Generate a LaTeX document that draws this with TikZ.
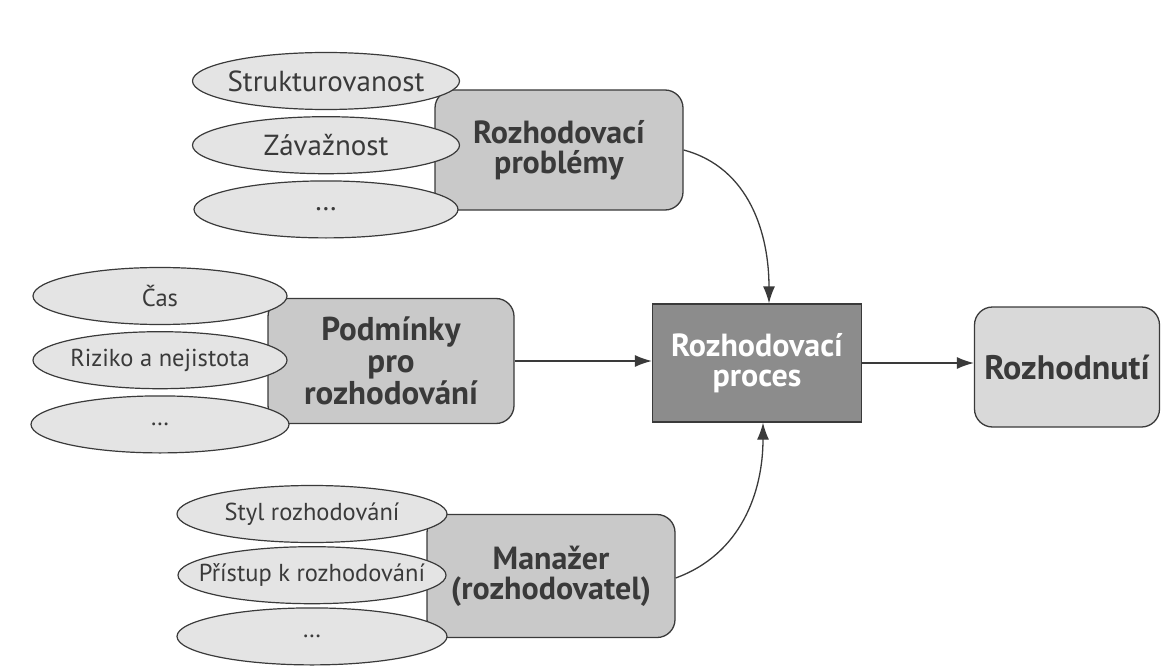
\documentclass[tikz,border=0pt]{standalone}
\usepackage{fontspec}
\setmainfont{PT Sans}
\usepackage{tikz}
\usetikzlibrary{shapes, positioning, calc, arrows.meta}
\definecolor{ovalgray}{HTML}{E4E4E4}
\definecolor{boxgray}{HTML}{C9C9C9}
\definecolor{procgray}{HTML}{8C8C8C}
\definecolor{resgray}{HTML}{D9D9D9}
\definecolor{inkgray}{HTML}{3A3A3A}

\begin{document}
\begin{tikzpicture}[x=1pt, y=-1pt,
    factor/.style={ellipse, 
      draw=inkgray, 
      line width=1.2pt, 
      fill=ovalgray, 
      minimum width=#1, 
      minimum height=57pt, 
      inner xsep=-40pt, 
      inner ysep=0pt, 
      text=inkgray, 
      font=\fontsize{24.5}{28}\selectfont},
    bigfactor/.style={font=\fontsize{29}{30}\selectfont},
    group/.style={rectangle, 
      rounded corners=18pt, 
      draw=inkgray, 
      line width=1.3pt, 
      fill=boxgray, 
      minimum width=248pt, 
      minimum height=#1, 
      align=center, 
      text=inkgray, 
      font=\fontsize{32}{30}\selectfont\bfseries},
    link/.style={draw=inkgray, 
      line width=1.3pt, 
      -{Latex[length=17pt, width=12pt]}}]

  \useasboundingbox (0,0) rectangle (1162,666);

  % MAIN BOXES

  \node [group=120pt] (problemy) at (559,150) {Rozhodovací\\problémy};

  \node [group=125pt, 
    minimum width=246pt, 
    font=\fontsize{33}{32}\selectfont\bfseries] (podminky) at (391,361) 
    {Podmínky\\pro\\rozhodování};

  \node [group=123pt] (manazer) at (551,576) {Manažer\\(rozhodovatel)};

  \node [rectangle, 
    draw=inkgray, 
    line width=1.3pt, 
    fill=procgray, 
    minimum width=209pt, 
    minimum height=118pt, 
    align=center, 
    text=white, 
    font=\fontsize{32}{30}\selectfont\bfseries] (proces) at (757,363) 
    {Rozhodovací\\proces};

  \node [group=120pt, 
    minimum width=185pt, 
    fill=resgray, 
    font=\fontsize{34}{30}\selectfont\bfseries] (rozhodnuti) at (1067,367) 
    {Rozhodnutí};

  % FACTORS

  \node [factor=267pt, bigfactor] (strukt) at (326,81) {Strukturovanost};
  \node [factor=267pt, bigfactor, below=6pt of strukt] (zavaz) {Závažnost};
  \node [factor=264pt, bigfactor, below=6pt of zavaz] (probdots) {\dots};

  \node [factor=254pt] (cas) at (160,296) {Čas};
  \node [factor=254pt, below=6pt of cas] (riziko) {Riziko a nejistota};
  \node [factor=258pt, below=6pt of riziko] (podmdots) {\dots};

  \node [factor=270pt] (styl) at (312,514) {Styl rozhodování};
  \node [factor=268pt, below=3pt of styl] (pristup) {Přístup k rozhodování};
  \node [factor=270pt, below=3pt of pristup] (manazdots) {\dots};

  % ARROWS

  \draw [link] (problemy.east) to[out=-15, in=90] ([xshift=12pt]proces.north);
  \draw [link] (podminky.east) -- (podminky.east -| proces.west);
  \draw [link] ([yshift=-2pt]manazer.east) to[out=20, in=-90] ([xshift=6pt]proces.south);
  \draw [link] (proces.east) -- (proces.east -| rozhodnuti.west);

\end{tikzpicture}
\end{document}
